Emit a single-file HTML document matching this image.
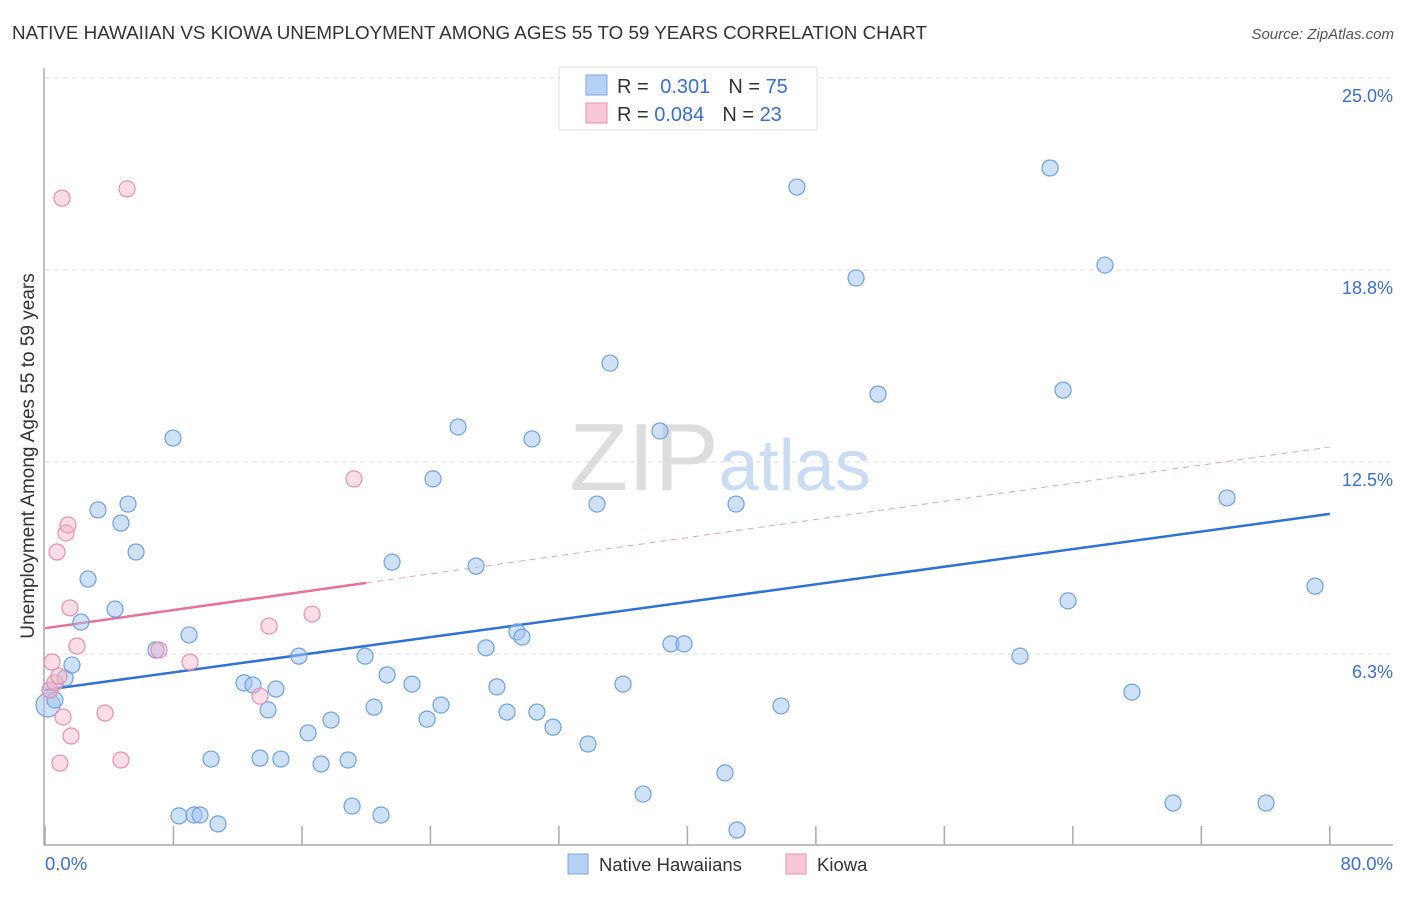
<!DOCTYPE html>
<html><head><meta charset="utf-8"><style>
body{margin:0;background:#fff;font-family:"Liberation Sans",sans-serif;}
svg text{font-family:"Liberation Sans",sans-serif;}
</style></head><body>
<svg id="chart" width="1406" height="892" xmlns="http://www.w3.org/2000/svg">
<text x="12" y="39" font-size="18.8" fill="#333">NATIVE HAWAIIAN VS KIOWA UNEMPLOYMENT AMONG AGES 55 TO 59 YEARS CORRELATION CHART</text>
<text x="1394" y="39" font-size="15" fill="#555" text-anchor="end" font-style="italic">Source: ZipAtlas.com</text>
<text x="720" y="490" font-size="96" fill="#ddd" text-anchor="middle" font-family="Liberation Serif">ZIP<tspan fill="#c9dcf3" font-family="Liberation Sans" font-size="72">atlas</tspan></text>
<g id="grid"></g>
<g id="axes"></g>
<g id="trend"></g>
<g id="pts"></g>
<text transform="translate(34,456) rotate(-90)" font-size="19" fill="#333" text-anchor="middle">Unemployment Among Ages 55 to 59 years</text>
<g>
<rect x="559" y="67" width="258" height="63" fill="#fff" stroke="#ddd"/>
<rect x="586" y="75" width="21" height="20" fill="#b7d1f5" stroke="#7aa8e0"/>
<text x="617" y="93" font-size="20" fill="#333">R = <tspan fill="#3a6fd0" dx="6">0.301</tspan><tspan dx="18" fill="#333">N = </tspan><tspan fill="#3a6fd0">75</tspan></text>
<rect x="586" y="103" width="21" height="20" fill="#f9c8d6" stroke="#e890b0"/>
<text x="617" y="121" font-size="20" fill="#333">R = <tspan fill="#3a6fd0">0.084</tspan><tspan dx="18" fill="#333">N = </tspan><tspan fill="#3a6fd0">23</tspan></text>
</g>
<g>
<rect x="568" y="854" width="20" height="20" fill="#b7d1f5" stroke="#7aa8e0"/>
<text x="599" y="871" font-size="18.5" fill="#333">Native Hawaiians</text>
<rect x="786" y="854" width="20" height="20" fill="#f9c8d6" stroke="#e890b0"/>
<text x="817" y="871" font-size="18.5" fill="#333">Kiowa</text>
</g>
</svg>
<script>
const blueX=[0.19,0.62,0.31,1.25,1.68,2.24,2.68,3.30,4.36,4.73,5.17,5.67,6.91,7.97,8.34,8.97,9.28,9.65,10.34,10.77,12.39,12.95,13.39,13.89,14.38,14.69,15.81,16.38,17.19,17.81,18.87,19.12,19.93,20.49,20.92,21.30,21.61,22.85,23.79,24.16,24.66,25.72,26.84,27.46,28.14,28.77,29.39,29.70,30.32,30.63,31.63,33.81,34.37,35.18,35.99,37.24,38.29,38.98,39.79,42.34,43.03,43.09,45.83,46.82,50.50,51.87,60.71,62.58,63.39,63.70,66.00,67.68,70.24,73.60,76.03,79.08];
const blueY=[4.59,4.75,5.08,5.47,5.89,7.29,8.69,10.94,7.71,10.51,11.13,9.57,6.38,13.28,0.98,6.87,1.01,1.01,2.83,0.72,5.31,5.24,2.86,4.43,5.11,2.83,6.18,3.68,2.67,4.10,2.80,1.30,6.18,4.52,1.01,5.57,9.24,5.27,4.13,11.95,4.59,13.64,9.11,6.45,5.18,4.36,6.97,6.80,13.25,4.36,3.87,3.32,11.13,15.72,5.27,1.69,13.51,6.58,6.58,2.38,11.13,0.52,4.56,21.45,18.49,14.71,6.18,22.07,14.84,7.98,18.91,5.01,1.40,11.33,1.40,8.46];
const pinkX=[0.31,0.44,0.62,0.75,0.87,1.06,0.93,1.12,1.31,1.43,1.56,1.62,1.99,3.74,4.73,5.11,7.10,9.03,13.39,13.95,16.63,19.24];
const pinkY=[5.08,5.99,5.31,9.57,5.53,21.09,2.70,4.20,10.19,10.45,7.75,3.58,6.51,4.33,2.80,21.39,6.38,5.99,4.88,7.16,7.55,11.95];
const blueTrend=[5.08,10.81];
const pinkTrend=[7.09,12.99];
const yTicks=[6.3,12.5,18.8,25.0];
const xTickLabels=["0.0%","80.0%"];
const NS="http://www.w3.org/2000/svg";
const X=v=>45+v*16.06, Y=v=>846-v*30.72;
function mk(t,a,p){const e=document.createElementNS(NS,t);for(const k in a)e.setAttribute(k,a[k]);document.getElementById(p).appendChild(e);return e;}
yTicks.forEach(t=>{const y=Y(t===6.3?6.25:t===18.8?18.75:t);
const l=mk('line',{x1:45,x2:1393,y1:y,y2:y,stroke:'#ddd','stroke-dasharray':'5,4'},'grid');


const tx=mk('text',{x:1393,y:y+24,'font-size':18,fill:'#3a6fd0','text-anchor':'end'},'grid');tx.textContent=t.toFixed(1)+'%';

});
const ax=mk('path',{d:'M44,68 V845 H1393',stroke:'#aaa',fill:'none','stroke-width':1.5},'axes');


for(let i=0;i<=10;i++){const x=X(i*8);const t=mk('line',{x1:x,x2:x,y1:826,y2:845,stroke:'#aaa','stroke-width':1.5},'axes');

}
xTickLabels.forEach((s,i)=>{const t=mk('text',{x:i?1393:45,y:870,'font-size':18.5,fill:'#3a6fd0','text-anchor':i?'end':'start'},'axes');t.textContent=s;

});
const bl=mk('line',{x1:X(0),y1:Y(blueTrend[0]),x2:X(80),y2:Y(blueTrend[1]),stroke:'#2f72d6','stroke-width':2.5},'trend');


const pm=v=>pinkTrend[0]+(pinkTrend[1]-pinkTrend[0])*v/80;
const pd=mk('line',{x1:X(20),y1:Y(pm(20)),x2:X(80),y2:Y(pinkTrend[1]),stroke:'#e8a0b8','stroke-width':1,'stroke-dasharray':'6,5'},'trend');


const ps=mk('line',{x1:X(0),y1:Y(pinkTrend[0]),x2:X(20),y2:Y(pm(20)),stroke:'#e8709a','stroke-width':2.5},'trend');


blueX.forEach((x,i)=>{const c=mk('circle',{cx:X(x),cy:Y(blueY[i]),r:i===0?12:8,fill:'rgba(160,195,240,0.5)',stroke:'#6fa0e0','stroke-width':1.2},'pts');

});
pinkX.forEach((x,i)=>{const c=mk('circle',{cx:X(x),cy:Y(pinkY[i]),r:8,fill:'rgba(245,180,200,0.45)',stroke:'#e890b0','stroke-width':1.2},'pts');

});
</script>
</body></html>
